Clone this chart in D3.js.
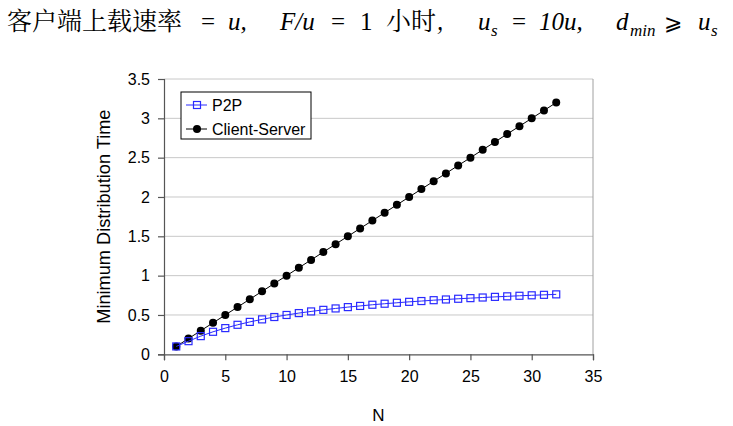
<!DOCTYPE html>
<html><head><meta charset="utf-8">
<script src="https://cdn.jsdelivr.net/npm/d3@7/dist/d3.min.js"></script>
<style>body{margin:0;background:#fff}svg{display:block}</style>
</head><body>
<script>
// Data
const N = [1,2,3,4,5,6,7,8,9,10,11,12,13,14,15,16,17,18,19,20,21,22,23,24,25,26,27,28,29,30,31,32];
const p2p = [0.10,0.167,0.231,0.286,0.333,0.375,0.412,0.444,0.474,0.50,0.524,0.545,0.565,0.583,0.60,0.615,0.630,0.643,0.655,0.667,0.677,0.688,0.697,0.706,0.714,0.722,0.730,0.737,0.744,0.75,0.756,0.762];
const clientServer = [0.1,0.2,0.3,0.4,0.5,0.6,0.7,0.8,0.9,1.0,1.1,1.2,1.3,1.4,1.5,1.6,1.7,1.8,1.9,2.0,2.1,2.2,2.3,2.4,2.5,2.6,2.7,2.8,2.9,3.0,3.1,3.2];
const xTicks = [0,5,10,15,20,25,30,35];
const yTicks = [0,0.5,1,1.5,2,2.5,3,3.5];
const seriesNames = ["P2P","Client-Server"];

const W=733,H=426;
const svg=d3.select("body").append("svg").attr("width",W).attr("height",H);
const L=164,R=593,T=79,B=354.3;
const x=d3.scaleLinear().domain([0,35]).range([L,R]);
const y=d3.scaleLinear().domain([0,3.5]).range([B,T]);

// Title
const serif="'Liberation Serif','Times New Roman','DejaVu Serif',serif";
const cjk="'Noto Serif CJK SC','Noto Sans CJK SC',sans-serif";
const title=svg.append("g").attr("font-size",25).attr("fill","#000");
const tokens=[
 {t:"客户端上载速率",x:7,f:cjk},
 {t:"=",x:201,f:serif},
 {t:"u,",x:228,f:serif,i:1},
 {t:"F/u",x:280,f:serif,i:1},
 {t:"=",x:331,f:serif},
 {t:"1",x:360,f:serif},
 {t:"小时,",x:386,f:cjk},
 {t:"u",x:478,f:serif,i:1},
 {t:"s",x:491,f:serif,i:1,sub:1},
 {t:"=",x:512,f:serif},
 {t:"10u,",x:539,f:serif,i:1},
 {t:"d",x:616,f:serif,i:1},
 {t:"min",x:630,f:serif,i:1,sub:1},
 {t:"⩾",x:664,f:"'DejaVu Serif','DejaVu Sans',serif"},
 {t:"u",x:698,f:serif,i:1},
 {t:"s",x:711,f:serif,i:1,sub:1}
];
tokens.forEach(k=>{
  title.append("text").attr("x",k.x).attr("y",k.sub?36:30)
   .attr("font-family",k.f).attr("font-style",k.i?"italic":"normal")
   .attr("font-size",k.sub?17:(k.t==="⩾"?22:25)).text(k.t);
});

// Grid
svg.append("g").selectAll("line").data(yTicks.filter(d=>d>0)).join("line")
 .attr("x1",L).attr("x2",R).attr("y1",d=>y(d)).attr("y2",d=>y(d))
 .attr("stroke","#c8c8c8").attr("stroke-width",1);
// right border
svg.append("line").attr("x1",R).attr("x2",R).attr("y1",T).attr("y2",B).attr("stroke","#a0a0a0");

const font="'Liberation Sans',Arial,sans-serif";
// axes
const ya=svg.append("g").attr("transform",`translate(${L},0)`)
 .call(d3.axisLeft(y).tickValues(yTicks).tickFormat(d3.format("")).tickSize(6).tickPadding(8));
const xa=svg.append("g").attr("transform",`translate(0,${B})`)
 .call(d3.axisBottom(x).tickValues(xTicks).tickSize(6).tickPadding(10));
[ya,xa].forEach(a=>{
  a.selectAll("path,line").attr("stroke","#555").attr("stroke-width",1.2);
  a.selectAll("text").attr("font-family",font).attr("font-size",16).attr("fill","#000");
});

// labels
svg.append("text").attr("x",(L+R)/2).attr("y",421).attr("text-anchor","middle")
 .attr("font-family",font).attr("font-size",17).text("N");
svg.append("text").attr("transform",`translate(110,${(T+B)/2}) rotate(-90)`).attr("text-anchor","middle")
 .attr("font-family",font).attr("font-size",18.2).text("Minimum Distribution Time");

// series
const line=d3.line().x(d=>x(d[0])).y(d=>y(d[1]));
const csData=N.map((n,i)=>[n,clientServer[i]]);
const p2pData=N.map((n,i)=>[n,p2p[i]]);
const blue="#2a2aff";
svg.append("path").datum(csData).attr("d",line).attr("fill","none").attr("stroke","#000").attr("stroke-width",1);
svg.append("g").selectAll("circle").data(csData).join("circle")
 .attr("cx",d=>x(d[0])).attr("cy",d=>y(d[1])).attr("r",4).attr("fill","#000");
svg.append("path").datum(p2pData).attr("d",line).attr("fill","none").attr("stroke",blue).attr("stroke-width",1);
svg.append("g").selectAll("rect").data(p2pData).join("rect")
 .attr("x",d=>x(d[0])-3.5).attr("y",d=>y(d[1])-3.5).attr("width",7).attr("height",7)
 .attr("fill","none").attr("stroke",blue).attr("stroke-width",1.2);

// legend
const lg=svg.append("g");
lg.append("rect").attr("x",181).attr("y",92).attr("width",130).attr("height",47)
 .attr("fill","#fff").attr("stroke","#000").attr("stroke-width",1);
const rows=[105,129];
lg.append("line").attr("x1",186).attr("x2",207).attr("y1",rows[0]).attr("y2",rows[0]).attr("stroke",blue);
lg.append("rect").attr("x",197-3.5).attr("y",rows[0]-3.5).attr("width",7).attr("height",7).attr("fill","none").attr("stroke",blue).attr("stroke-width",1.2);
lg.append("line").attr("x1",186).attr("x2",207).attr("y1",rows[1]).attr("y2",rows[1]).attr("stroke","#000");
lg.append("circle").attr("cx",197).attr("cy",rows[1]).attr("r",4).attr("fill","#000");
seriesNames.forEach((s,i)=>{
  lg.append("text").attr("x",212).attr("y",rows[i]+5.5).attr("font-family",font).attr("font-size",16).text(s);
});
</script>
</body></html>
